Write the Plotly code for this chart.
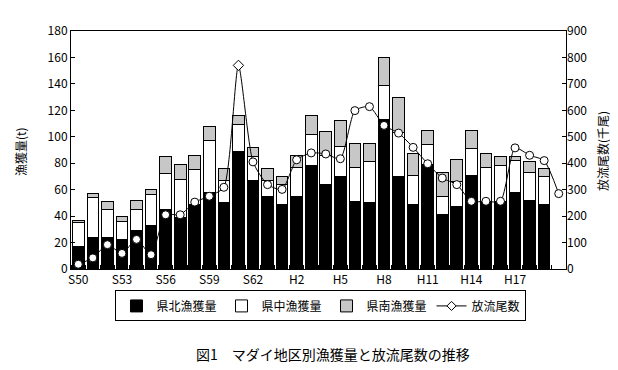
import plotly.graph_objects as go

years = list(range(1975, 2009))
tick_pos = [0, 3, 6, 9, 12, 15, 18, 21, 24, 27, 30]
tick_labels = ["S50", "S53", "S56", "S59", "S62", "H2", "H5", "H8", "H11", "H14", "H17"]

north = [17, 24, 24, 22, 29, 33, 45, 39, 49, 58, 50, 89, 67, 55, 49, 55, 78,
         64, 70, 51, 50, 113, 70, 49, 79, 41, 47, 71, 51, 51, 58, 52, 49, None]
middle = [18, 30, 21, 14, 16, 23, 27, 29, 26, 39, 17, 20, 18, 12, 15, 22, 24,
          22, 23, 26, 31, 26, 33, 22, 15, 14, 19, 20, 26, 27, 24, 21, 21, None]
south = [2, 3, 6, 4, 7, 4, 13, 11, 11, 11, 9, 7, 7, 9, 6, 9, 14,
         18, 19, 18, 14, 21, 27, 16, 11, 18, 17, 14, 10, 7, 3, 8, 6, None]
released = [18, 42, 92, 59, 112, 54, 205, 205, 253, 275, 309, 770, 405, 319, 301, 413, 439,
            435, 417, 599, 614, 543, 514, 460, 398, 344, 319, 256, 256, 256, 458, 430, 410, 285]

x = list(range(len(years)))
FONT = "Noto Sans CJK JP, DejaVu Sans, sans-serif"

fig = go.Figure()
fig.add_trace(go.Bar(x=x, y=north, name="県北漁獲量", width=0.8,
                     marker=dict(color="black", line=dict(color="black", width=1))))
fig.add_trace(go.Bar(x=x, y=middle, name="県中漁獲量", width=0.8,
                     marker=dict(color="white", line=dict(color="black", width=1))))
fig.add_trace(go.Bar(x=x, y=south, name="県南漁獲量", width=0.8,
                     marker=dict(color="white", line=dict(color="black", width=1),
                                 pattern=dict(shape=".", fgcolor="black", bgcolor="white",
                                              size=2, solidity=0.5))))
symbols = ["circle"] * len(released)
symbols[11] = "diamond"
fig.add_trace(go.Scatter(x=x, y=released, yaxis="y2", mode="lines+markers", showlegend=False,
                         line=dict(color="black", width=1, shape="spline", smoothing=0.6),
                         marker=dict(symbol=symbols, size=8, color="white",
                                     line=dict(color="black", width=1))))
fig.add_trace(go.Scatter(x=[None], y=[None], yaxis="y2", mode="lines+markers", name="放流尾数",
                         line=dict(color="black", width=1),
                         marker=dict(symbol="diamond", size=7, color="white",
                                     line=dict(color="black", width=1))))

fig.update_layout(
    width=618, height=370,
    margin=dict(l=63, r=60, t=23, b=109),
    barmode="stack", bargap=0.2,
    plot_bgcolor="white", paper_bgcolor="white",
    font=dict(family=FONT, size=12, color="black"),
    xaxis=dict(range=[-0.5, 33.5], tickvals=tick_pos, ticktext=tick_labels, ticks="",
               showline=True, linecolor="black", linewidth=1, mirror=True,
               showgrid=False, zeroline=False, tickfont=dict(size=12),
               minor=dict(tickmode="linear", tick0=-0.5, dtick=1, ticks="inside",
                          ticklen=4, tickcolor="black", showgrid=False)),
    yaxis=dict(range=[0, 180], dtick=20, ticks="inside", ticklen=4, tickcolor="black",
               showline=True, linecolor="black", linewidth=1, mirror=True,
               showgrid=False, zeroline=False, tickfont=dict(size=12)),
    yaxis2=dict(range=[0, 900], dtick=100, overlaying="y", side="right", ticks="inside",
                ticklen=4, tickcolor="black", showgrid=False, zeroline=False,
                showline=False, tickfont=dict(size=12)),
    legend=dict(orientation="h", x=0.505, xanchor="center", y=-0.09, yanchor="top",
                bordercolor="black", borderwidth=1, font=dict(size=12),
                traceorder="normal", itemwidth=30),
    annotations=[
        dict(text="漁獲量(t)", x=12, y=144, showarrow=False,
             textangle=-90, font=dict(size=12, color="black")),
        dict(text="放流尾数(千尾)", x=594, y=143, showarrow=False, textangle=-90,
             font=dict(size=12, color="black")),
        dict(text="図1　マダイ地区別漁獲量と放流尾数の推移", x=325, y=346, showarrow=False,
             font=dict(size=14, color="black")),
    ],
)
# convert pixel annotation positions to paper coords
L, R, T, B = 63, 558, 23, 261
for a in fig.layout.annotations:
    px, py = a.x, a.y
    a.xref = "paper"; a.yref = "paper"
    a.x = (px - L) / (R - L)
    a.y = (B - py) / (B - T)
    a.xanchor = "center"; a.yanchor = "middle"

fig.write_html("out.html")
